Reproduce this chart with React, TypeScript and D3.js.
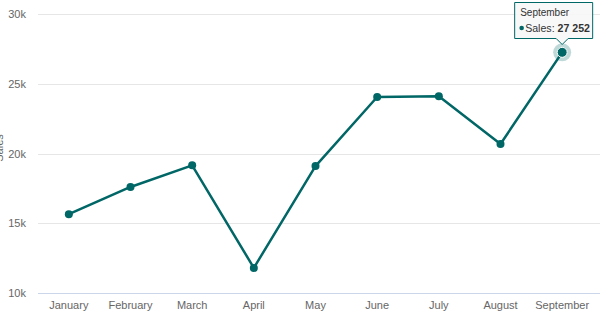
import React from "react";
import * as d3 from "d3";

const categories = ["January", "February", "March", "April", "May", "June", "July", "August", "September"];
const sales = [15650, 17600, 19150, 11800, 19100, 24050, 24100, 20680, 27252];
const yTicks = [10000, 15000, 20000, 25000, 30000];

const W = 600, H = 318;
const left = 38, right = 593, top = 14, bottom = 293;
const color = "#006666";
const font = "'Liberation Sans', Arial, Helvetica, sans-serif";

export default function App() {
  const x = d3.scaleBand<string>().domain(categories).range([left, right]);
  const y = d3.scaleLinear().domain([10000, 30000]).range([bottom, top]);
  const cx = (c: string) => (x(c) as number) + x.bandwidth() / 2;
  const line = d3.line<number>().x((_, i) => cx(categories[i])).y((d) => y(d));
  const fmt = (v: number) => (v / 1000) + "k";
  const last = categories.length - 1;
  const hx = cx(categories[last]);
  const hy = y(sales[last]);
  const tipW = 78, tipH = 36;
  const tx = hx - 48, ty = 2;
  const tipPath = `M${tx + 0.5},${ty + 0.5} H${tx + tipW + 0.5} V${ty + tipH + 0.5} H${hx + 6} L${hx},${ty + tipH + 6.5} L${hx - 6},${ty + tipH + 0.5} H${tx + 0.5} Z`;
  return (
    <svg width={W} height={H} style={{ position: "absolute", left: 0, top: 0, fontFamily: font }}>
      <rect width={W} height={H} fill="#fff" />
      {yTicks.map((t) => (
        <g key={t}>
          {t !== 10000 && (
            <line x1={left} x2={600} y1={Math.round(y(t)) + 0.5} y2={Math.round(y(t)) + 0.5} stroke="#e6e6e6" />
          )}
          <text x={26} y={y(t) + 4} textAnchor="end" fontSize={11} fill="#666">{fmt(t)}</text>
        </g>
      ))}
      <line x1={left} x2={600} y1={bottom + 0.5} y2={bottom + 0.5} stroke="#ccd6eb" />
      <text transform={`translate(3,148) rotate(-90)`} textAnchor="middle" fontSize={11} fill="#666">Sales</text>
      {categories.map((c) => (
        <text key={c} x={cx(c)} y={309} textAnchor="middle" fontSize={11} fill="#666">{c}</text>
      ))}
      <path d={line(sales) as string} fill="none" stroke={color} strokeWidth={2.5} strokeLinejoin="round" />
      {sales.map((v, i) => i !== last && (
        <circle key={i} cx={cx(categories[i])} cy={y(v)} r={4} fill={color} />
      ))}
      <circle cx={hx} cy={hy} r={9} fill={color} fillOpacity={0.25} />
      <circle cx={hx} cy={hy} r={5} fill={color} stroke="#fff" strokeWidth={1} />
      <path d={tipPath} fill="#f7f7f7" fillOpacity={0.9} stroke={color} strokeWidth={1} />
      <text x={tx + 6} y={ty + 14} fontSize={10} fill="#333">September</text>
      <circle cx={tx + 7.5} cy={ty + 26} r={2.3} fill={color} />
      <text x={tx + 11} y={ty + 30} fontSize={10.6} fill="#333">
        <tspan>Sales: </tspan>
        <tspan fontWeight="bold">27 252</tspan>
      </text>
    </svg>
  );
}
